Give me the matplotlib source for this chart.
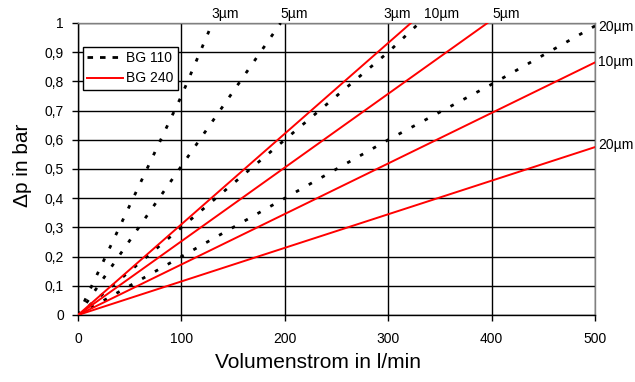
import matplotlib
matplotlib.use("Agg")
import matplotlib.pyplot as plt
from matplotlib.ticker import FuncFormatter

plt.rcParams['font.family'] = ['Liberation Sans', 'DejaVu Sans']

# -------- DATA: pressure drop vs. flow rate --------
# BG 110 (dotted black)
flow_110_3 = [0, 100, 130]
dp_110_3 = [0, 0.75, 1.0]
flow_110_5 = [0, 100, 196]
dp_110_5 = [0, 0.51, 1.0]
flow_110_10 = [0, 100, 200, 300, 330]
dp_110_10 = [0, 0.30, 0.60, 0.90, 1.0]
flow_110_20 = [0, 100, 150, 200, 300, 400, 500]
dp_110_20 = [0, 0.20, 0.30, 0.40, 0.60, 0.79, 0.99]

# BG 240 (solid red)
flow_240_3 = [0, 322]
dp_240_3 = [0, 1.0]
flow_240_5 = [0, 396]
dp_240_5 = [0, 1.0]
flow_240_10 = [0, 500]
dp_240_10 = [0, 0.865]
flow_240_20 = [0, 500]
dp_240_20 = [0, 0.575]

x_ticks = [0, 100, 200, 300, 400, 500]
y_ticks = [0, 0.1, 0.2, 0.3, 0.4, 0.5, 0.6, 0.7, 0.8, 0.9, 1.0]

# labels above the top edge: (text, flow position)
top_labels = [('3µm', 142), ('5µm', 209), ('3µm', 309), ('10µm', 352), ('5µm', 414)]
# labels right of the right edge: (text, pressure position)
right_labels = [('20µm', 0.986), ('10µm', 0.866), ('20µm', 0.583)]
# -------- DATA. --------

W, H = 635, 382
fig = plt.figure(figsize=(W / 100, H / 100), dpi=100)
ax = fig.add_axes([78 / W, 1 - 315 / H, (595 - 78) / W, (315 - 23) / H])

dotted = (0, (1.3, 4.0))
for fx, dy in [(flow_110_3, dp_110_3), (flow_110_5, dp_110_5),
               (flow_110_10, dp_110_10), (flow_110_20, dp_110_20)]:
    ax.plot(fx, dy, color='black', lw=2.0, linestyle=dotted, dash_capstyle='butt', zorder=3)

for fx, dy in [(flow_240_3, dp_240_3), (flow_240_5, dp_240_5),
               (flow_240_10, dp_240_10), (flow_240_20, dp_240_20)]:
    ax.plot(fx, dy, color='#ff0000', lw=1.4, zorder=4)

ax.set_xlim(0, 500)
ax.set_ylim(0, 1)
ax.set_xticks(x_ticks)
ax.set_yticks(y_ticks)
ax.yaxis.set_major_formatter(FuncFormatter(lambda v, p: ('%g' % round(v, 1)).replace('.', ',')))
ax.tick_params(direction='out', length=4, width=1, color='black', labelsize=10)
ax.tick_params(axis='x', pad=8)
ax.tick_params(axis='y', pad=6)
ax.grid(True, color='black', lw=1.0)

for side in ['left', 'bottom']:
    ax.spines[side].set_color('black')
    ax.spines[side].set_linewidth(1.0)
for side in ['top', 'right']:
    ax.spines[side].set_color('#808080')
    ax.spines[side].set_linewidth(1.0)

# Curve labels
for txt, xv in top_labels:
    ax.text(xv, 1.031, txt, ha='center', va='center', fontsize=10, clip_on=False)
for txt, yv in right_labels:
    ax.text(503, yv, txt, ha='left', va='center', fontsize=10, clip_on=False)

# Axis titles
fig.text(318 / W, 1 - 362 / H, 'Volumenstrom in l/min', ha='center', va='center', fontsize=15)
fig.text(22 / W, 1 - 165 / H, 'Δp in bar', ha='center', va='center', rotation=90, fontsize=15)

# Legend
h1, = ax.plot([], [], color='black', lw=2.0, linestyle=(0, (2, 2.5)))
h2, = ax.plot([], [], color='#ff0000', lw=1.4)
leg = ax.legend([h1, h2], ['BG 110', 'BG 240'], loc='upper left',
                bbox_to_anchor=(83 / W, 1 - 47 / H), bbox_transform=fig.transFigure,
                borderaxespad=0, fancybox=False, framealpha=1, edgecolor='black',
                fontsize=10, handlelength=2.6, handletextpad=0.2, borderpad=0.3,
                labelspacing=0.45)
leg.get_frame().set_linewidth(1.0)

fig.savefig('out.png', dpi=100)
